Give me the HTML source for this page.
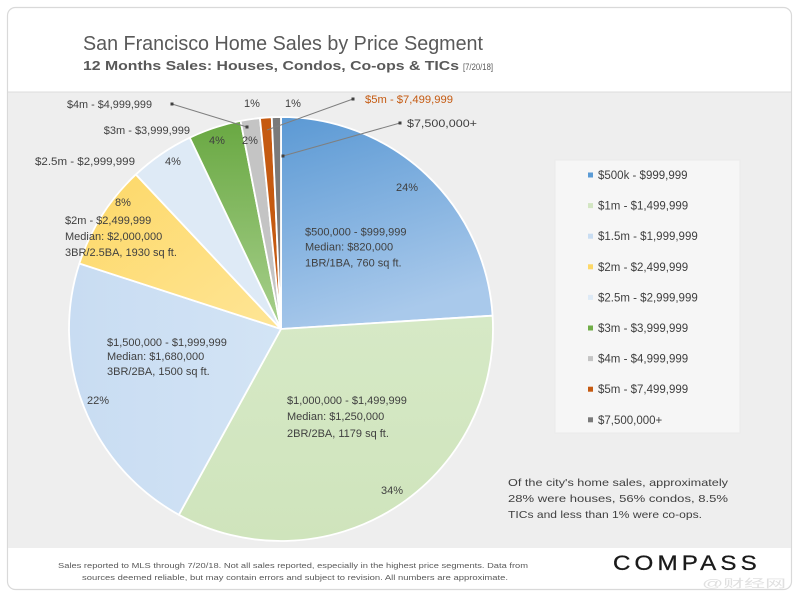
<!DOCTYPE html>
<html><head><meta charset="utf-8"><style>
html,body{margin:0;padding:0;background:#fff;width:800px;height:600px;overflow:hidden}
svg{display:block}
text{font-family:"Liberation Sans","Noto Sans CJK SC",sans-serif}
</style></head><body>
<svg width="800" height="600" viewBox="0 0 800 600" xmlns="http://www.w3.org/2000/svg">
<defs>
<linearGradient id="gBlue" x1="0" y1="0" x2="0.3" y2="1"><stop offset="0" stop-color="#5b99d4"/><stop offset="1" stop-color="#a9c9eb"/></linearGradient>
<linearGradient id="gLG" x1="0" y1="0" x2="0" y2="1"><stop offset="0" stop-color="#d6e9c6"/><stop offset="1" stop-color="#cfe4bc"/></linearGradient>
<linearGradient id="gLB" x1="0" y1="0" x2="1" y2="0"><stop offset="0" stop-color="#c8dcf2"/><stop offset="1" stop-color="#d3e4f5"/></linearGradient>
<linearGradient id="gY" x1="0" y1="0" x2="1" y2="1"><stop offset="0" stop-color="#fdd867"/><stop offset="1" stop-color="#fee596"/></linearGradient>
<linearGradient id="gG" x1="0" y1="0" x2="0" y2="1"><stop offset="0" stop-color="#69a842"/><stop offset="1" stop-color="#a8d08d"/></linearGradient>
</defs>
<!-- card -->
<rect x="0" y="0" width="800" height="600" fill="#ffffff"/>
<rect x="7.5" y="7.5" width="784" height="582" rx="8" fill="#ffffff" stroke="#d9d9d9" stroke-width="1.2"/>
<rect x="8" y="92" width="783" height="456" fill="#eeeeee"/>
<line x1="8" y1="92" x2="791" y2="92" stroke="#dcdcdc" stroke-width="1"/>

<!-- title -->
<text x="83" y="50" font-size="20" fill="#595959" textLength="400" lengthAdjust="spacingAndGlyphs">San Francisco Home Sales by Price Segment</text>
<text x="83" y="70" font-size="12.5" font-weight="bold" fill="#595959" textLength="376" lengthAdjust="spacingAndGlyphs">12 Months Sales: Houses, Condos, Co-ops &amp; TICs</text>
<text x="463" y="70" font-size="9" fill="#595959" textLength="30" lengthAdjust="spacingAndGlyphs">[7/20/18]</text>

<!-- pie -->
<g stroke="#ffffff" stroke-width="1.8" stroke-linejoin="round">
<path d="M281,329 L281,117 A212,212 0 0 1 492.58,315.69 Z" fill="url(#gBlue)"/>
<path d="M281,329 L492.58,315.69 A212,212 0 0 1 178.87,514.78 Z" fill="url(#gLG)"/>
<path d="M281,329 L178.87,514.78 A212,212 0 0 1 79.38,263.49 Z" fill="url(#gLB)"/>
<path d="M281,329 L79.38,263.49 A212,212 0 0 1 135.88,174.46 Z" fill="url(#gY)"/>
<path d="M281,329 L135.88,174.46 A212,212 0 0 1 189.73,137.65 Z" fill="#deeaf6"/>
<path d="M281,329 L189.73,137.65 A212,212 0 0 1 240.55,120.89 Z" fill="url(#gG)"/>
<path d="M281,329 L240.55,120.89 A212,212 0 0 1 259.94,118.05 Z" fill="#c4c4c4"/>
<path d="M281,329 L259.94,118.05 A212,212 0 0 1 271.75,117.20 Z" fill="#c55a11"/>
<path d="M281,329 L271.75,117.20 A212,212 0 0 1 281,117 Z" fill="#7a7a7a"/>
</g>

<!-- leader lines -->
<g stroke="#7f7f7f" stroke-width="1" fill="none">
<line x1="172" y1="104" x2="247" y2="127"/>
<line x1="353" y1="99" x2="267" y2="130"/>
<line x1="400" y1="123" x2="283" y2="156"/>
</g>
<g fill="#404040">
<rect x="170.5" y="102.5" width="3" height="3"/>
<rect x="245.5" y="125.5" width="3" height="3"/>
<rect x="351.5" y="97.5" width="3" height="3"/>
<rect x="398.5" y="121.5" width="3" height="3"/>
<rect x="281.5" y="154.5" width="3" height="3"/>
</g>

<!-- slice labels -->
<g font-size="11" fill="#404040">
<text x="407" y="191" text-anchor="middle">24%</text>
<text x="305" y="235.5">$500,000 - $999,999</text>
<text x="305" y="250.5">Median: $820,000</text>
<text x="305" y="266.5">1BR/1BA, 760 sq ft.</text>

<text x="287" y="404">$1,000,000 - $1,499,999</text>
<text x="287" y="420">Median: $1,250,000</text>
<text x="287" y="437">2BR/2BA, 1179 sq ft.</text>
<text x="392" y="494" text-anchor="middle">34%</text>

<text x="107" y="346">$1,500,000 - $1,999,999</text>
<text x="107" y="360">Median: $1,680,000</text>
<text x="107" y="375">3BR/2BA, 1500 sq ft.</text>
<text x="98" y="404" text-anchor="middle">22%</text>

<text x="123" y="206" text-anchor="middle">8%</text>
<text x="65" y="224">$2m - $2,499,999</text>
<text x="65" y="240">Median: $2,000,000</text>
<text x="65" y="256">3BR/2.5BA, 1930 sq ft.</text>

<text x="35" y="165" textLength="100" lengthAdjust="spacingAndGlyphs">$2.5m - $2,999,999</text>
<text x="173" y="165" text-anchor="middle">4%</text>
<text x="190" y="134" text-anchor="end">$3m - $3,999,999</text>
<text x="217" y="144" text-anchor="middle">4%</text>
<text x="67" y="108" textLength="85" lengthAdjust="spacingAndGlyphs">$4m - $4,999,999</text>
<text x="250" y="144" text-anchor="middle">2%</text>
<text x="252" y="107" text-anchor="middle">1%</text>
<text x="293" y="107" text-anchor="middle">1%</text>
<text x="365" y="103" fill="#c55a11" textLength="88" lengthAdjust="spacingAndGlyphs">$5m - $7,499,999</text>
<text x="407" y="127" textLength="70" lengthAdjust="spacingAndGlyphs">$7,500,000+</text>
</g>

<!-- legend -->
<rect x="555" y="160" width="185" height="273" fill="#f6f6f6" stroke="#ebebeb" stroke-width="1"/>
<g>
<rect x="588" y="172.5" width="5" height="5" fill="#5b9bd5"/>
<rect x="588" y="203.1" width="5" height="5" fill="#d3e6c3"/>
<rect x="588" y="233.7" width="5" height="5" fill="#c9ddf2"/>
<rect x="588" y="264.3" width="5" height="5" fill="#fdd867"/>
<rect x="588" y="294.9" width="5" height="5" fill="#deeaf6"/>
<rect x="588" y="325.5" width="5" height="5" fill="#70ad47"/>
<rect x="588" y="356.1" width="5" height="5" fill="#c4c4c4"/>
<rect x="588" y="386.7" width="5" height="5" fill="#c55a11"/>
<rect x="588" y="417.3" width="5" height="5" fill="#7a7a7a"/>
</g>
<g font-size="11.5" fill="#404040">
<text x="598" y="179">$500k - $999,999</text>
<text x="598" y="209.6">$1m - $1,499,999</text>
<text x="598" y="240.2">$1.5m - $1,999,999</text>
<text x="598" y="270.8">$2m - $2,499,999</text>
<text x="598" y="301.4">$2.5m - $2,999,999</text>
<text x="598" y="332">$3m - $3,999,999</text>
<text x="598" y="362.6">$4m - $4,999,999</text>
<text x="598" y="393.2">$5m - $7,499,999</text>
<text x="598" y="423.8">$7,500,000+</text>
</g>

<!-- note -->
<g font-size="10.5" fill="#404040">
<text x="508" y="486" textLength="220" lengthAdjust="spacingAndGlyphs">Of the city's home sales, approximately</text>
<text x="508" y="502" textLength="220" lengthAdjust="spacingAndGlyphs">28% were houses, 56% condos, 8.5%</text>
<text x="508" y="518" textLength="194" lengthAdjust="spacingAndGlyphs">TICs and less than 1% were co-ops.</text>
</g>

<!-- footer -->
<g font-size="7.5" fill="#595959">
<text x="58" y="568" textLength="470" lengthAdjust="spacingAndGlyphs">Sales reported to MLS through 7/20/18. Not all sales reported, especially in the highest price segments. Data from</text>
<text x="82" y="580" textLength="426" lengthAdjust="spacingAndGlyphs">sources deemed reliable, but may contain errors and subject to revision. All numbers are approximate.</text>
</g>
<text transform="translate(613,570) scale(1.15,1)" x="0" y="0" font-size="21" fill="#1a1a1a" stroke="#1a1a1a" stroke-width="0.3" textLength="125" lengthAdjust="spacing">COMPASS</text>
<text x="702" y="587" font-size="11" fill="#e0e0e0" textLength="84" lengthAdjust="spacingAndGlyphs">@财经网</text>
</svg>
</body></html>
